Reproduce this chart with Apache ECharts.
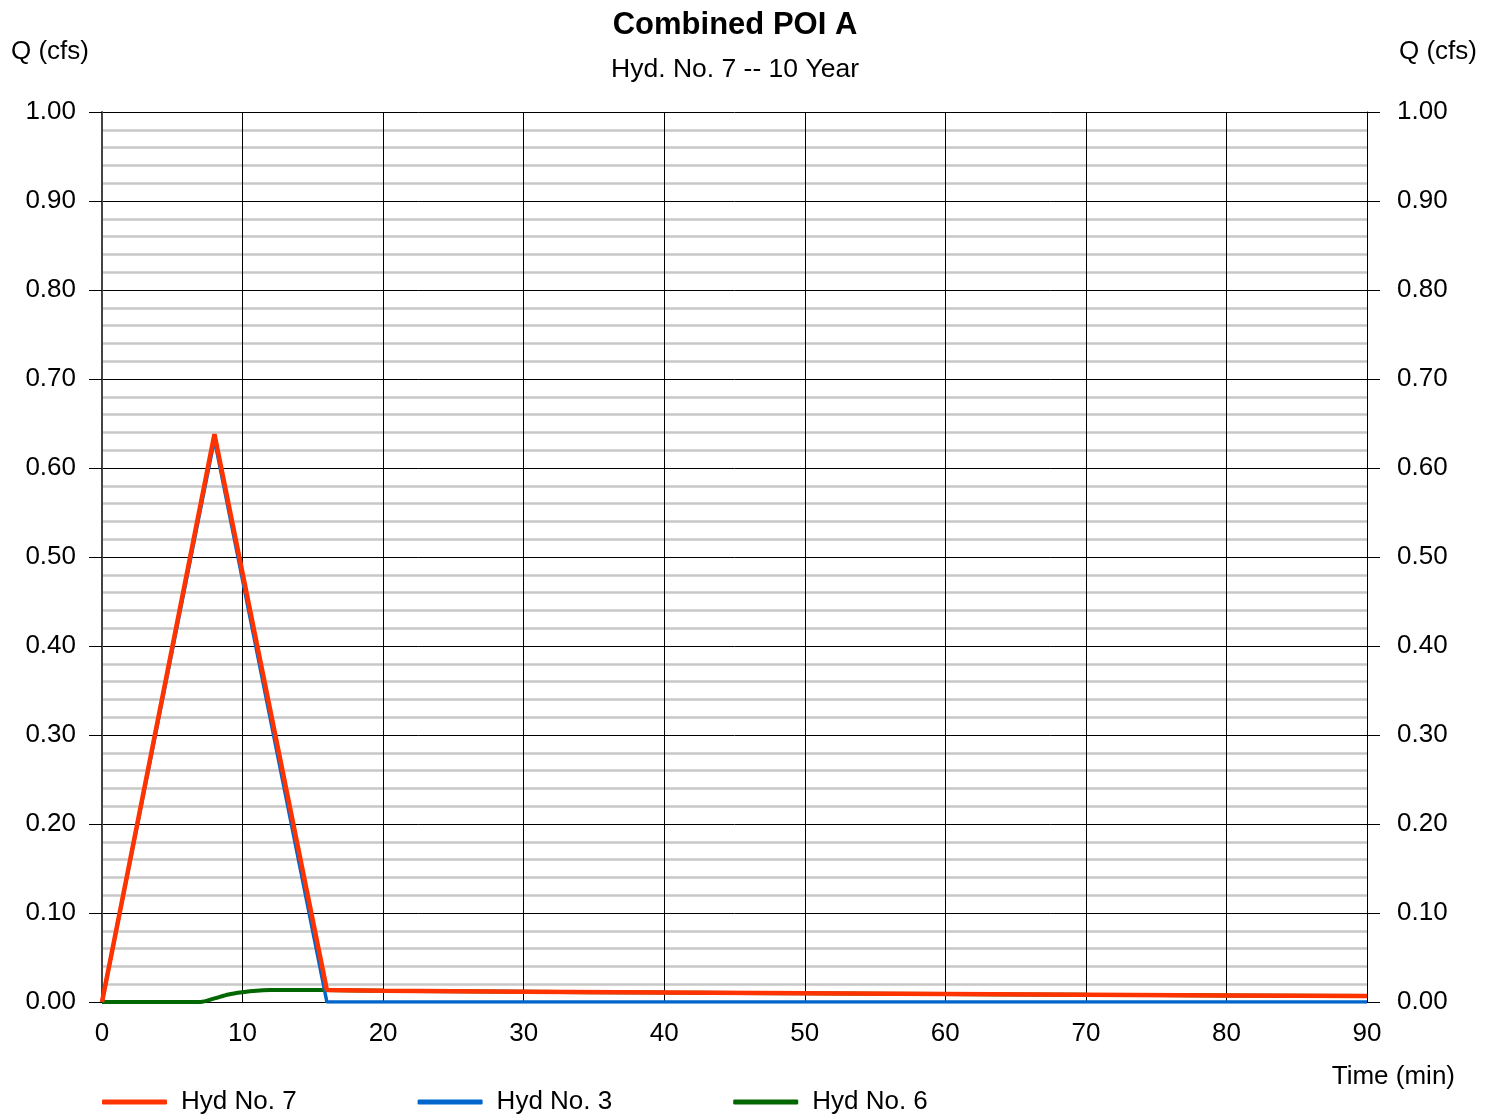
<!DOCTYPE html>
<html>
<head>
<meta charset="utf-8">
<script src="https://cdn.jsdelivr.net/npm/echarts@6/dist/echarts.min.js"></script>
<style>
html,body{margin:0;padding:0;background:#fff;}
#chart{width:1496px;height:1114px;}
</style>
</head>
<body>
<div id="chart"></div>
<script>
// Data (time in min, Q in cfs)
var hyd7 = [[0,0],[8,0.638],[16,0.0135],[20,0.0126],[30,0.0116],[40,0.0106],[50,0.0097],[60,0.0089],[70,0.0081],[80,0.0074],[90,0.0067]];
var hyd3 = [[0,0],[8,0.632],[16,0],[90,0]];
var hyd6 = [[0,0],[7,0],[8,0.004],[9,0.0085],[10,0.011],[11,0.0127],[12,0.0134],[14,0.0136],[16,0.0135],[20,0.0126],[30,0.0116],[40,0.0106],[50,0.0097],[60,0.0089],[70,0.0081],[80,0.0074],[90,0.0067]];
var seriesNames = ['Hyd No. 7','Hyd No. 3','Hyd No. 6'];
var titleText = 'Combined POI A';
var subtitleText = 'Hyd. No. 7 -- 10 Year';

var FONT = 'Liberation Sans, Arial, sans-serif';
var chart = echarts.init(document.getElementById('chart'), null, {renderer:'canvas'});

function yAxisCfg(pos){
  return {
    type:'value', position:pos, min:0, max:1, interval:0.1,
    axisLine:{show:true, lineStyle:{color: pos==='left' ? '#444' : '#000', width: pos==='left'?2:1}},
    axisTick:{show:true, inside:false, length:13, lineStyle:{color:'#000', width:1}},
    axisLabel:{show:true, margin: pos==='left'?26:30, fontSize:26, fontFamily:FONT, color:'#000',
      formatter:function(v){return v.toFixed(2);}},
    splitLine:{show: pos==='left', lineStyle:{color:'#000', width:1}},
    minorTick:{show:false, splitNumber:5},
    minorSplitLine:{show: pos==='left', lineStyle:{color:'#c8c8c8', width:2.5}}
  };
}

var option = {
  backgroundColor:'#fff',
  animation:false,
  grid:{left:102, right:129, top:112, bottom:112, containLabel:false},
  xAxis:{
    type:'value', min:0, max:90, interval:10,
    axisLine:{show:true, lineStyle:{color:'#000', width:1}},
    axisTick:{show:false},
    axisLabel:{margin:19, fontSize:26, fontFamily:FONT, color:'#000'},
    splitLine:{show:true, lineStyle:{color:'#000', width:1}}
  },
  yAxis:[yAxisCfg('left'), yAxisCfg('right')],
  legend:{
    data:seriesNames, left:97, top:1084, orient:'horizontal',
    icon:'roundRect', itemWidth:65, itemHeight:5, itemGap:121,
    textStyle:{fontSize:26, fontFamily:FONT, color:'#000', padding:[0,0,0,9]}
  },
  graphic:[
    {type:'text', x:735, y:25, style:{text:titleText, font:'bold 31px '+FONT, fill:'#000', textAlign:'center', textVerticalAlign:'middle'}},
    {type:'text', x:735, y:70, style:{text:subtitleText, font:'26.5px '+FONT, fill:'#000', textAlign:'center', textVerticalAlign:'middle'}},
    {type:'text', left:11, top:39, style:{text:'Q (cfs)', font:'26px '+FONT, fill:'#000'}},
    {type:'text', right:19, top:39, style:{text:'Q (cfs)', font:'26px '+FONT, fill:'#000'}},
    {type:'text', right:41, top:1064, style:{text:'Time (min)', font:'26px '+FONT, fill:'#000'}}
  ],
  series:[
    {name:seriesNames[2], type:'line', data:hyd6, showSymbol:false, smooth:0.3, lineStyle:{color:'#006600', width:4}, itemStyle:{color:'#006600'}, z:2},
    {name:seriesNames[1], type:'line', data:hyd3, showSymbol:false, lineStyle:{color:'#0066cc', width:3.5}, itemStyle:{color:'#0066cc'}, z:3},
    {name:seriesNames[0], type:'line', data:hyd7, showSymbol:false, lineStyle:{color:'#ff3300', width:4.5}, itemStyle:{color:'#ff3300'}, z:4}
  ]
};
chart.setOption(option);
</script>
</body>
</html>
